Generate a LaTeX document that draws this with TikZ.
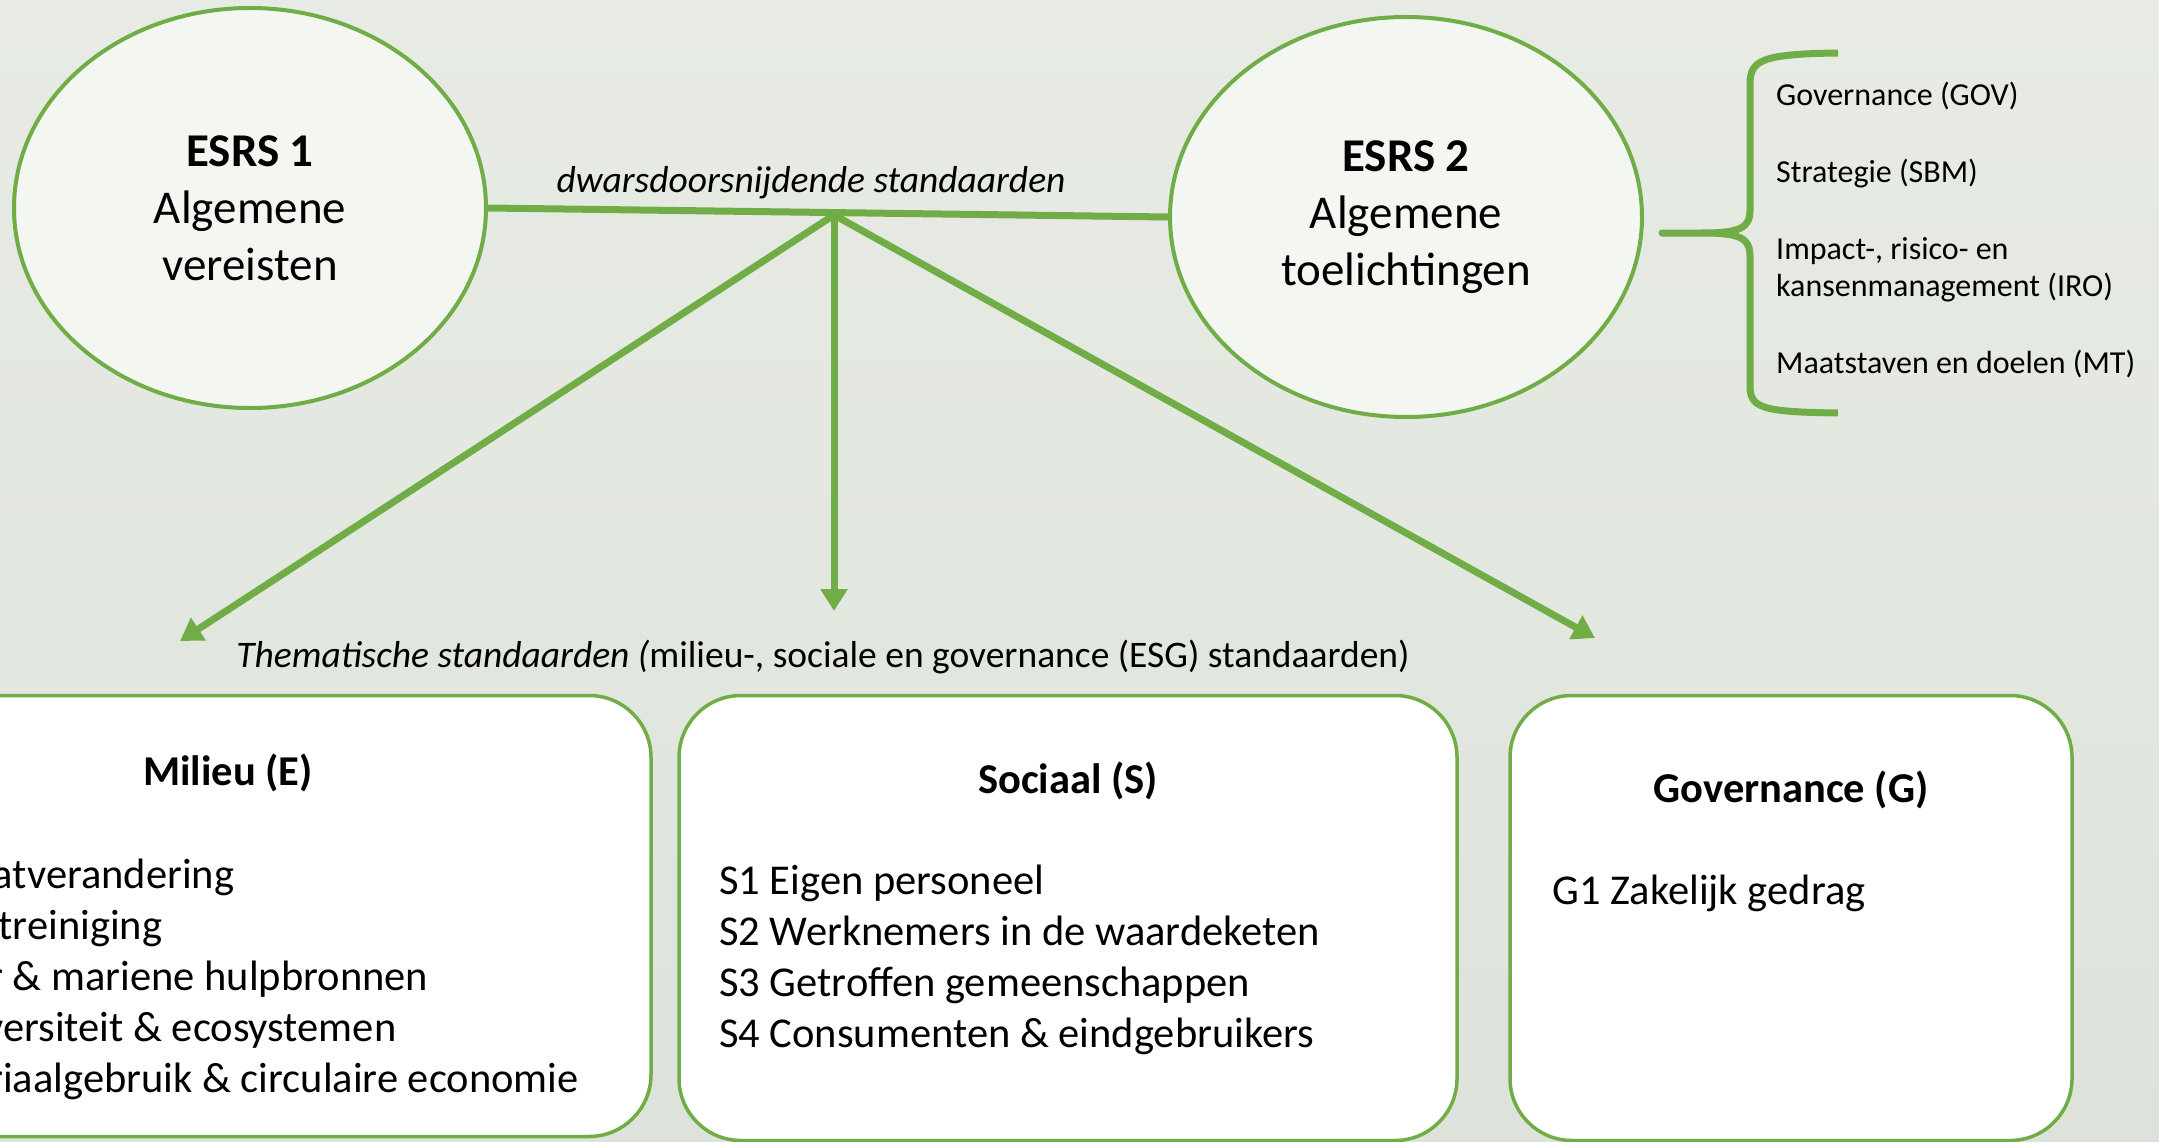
\documentclass[tikz,border=0pt]{standalone}
\usepackage{fontspec}
\setmainfont{Carlito}
\usetikzlibrary{arrows.meta}
\usetikzlibrary{shapes.geometric}

\definecolor{esrsgreen}{HTML}{70AD47}
\definecolor{bgtop}{HTML}{E7EBE4}
\definecolor{bgbottom}{HTML}{DDE3DA}
\definecolor{ovalfill}{HTML}{F4F6F2}

\tikzset{
  esrsoval/.style={ellipse, draw=esrsgreen, line width=4pt, fill=ovalfill, minimum width=472pt, minimum height=400pt, align=center, font=\fontsize{47}{57}\selectfont},
  themebox/.style={rectangle, draw=esrsgreen, line width=3.5pt, fill=white, rounded corners=62pt},
  link/.style={esrsgreen, line width=7pt},
  feed/.style={esrsgreen, line width=7pt, -{Triangle[width=26pt,length=22pt]}},
  note/.style={font=\fontsize{37.5}{45}\selectfont, inner sep=0pt},
  heading/.style={font=\fontsize{42.5}{51}\selectfont\bfseries, inner sep=0pt},
  items/.style={anchor=west, align=left, font=\fontsize{42.5}{51}\selectfont, inner sep=0pt},
  sublist/.style={anchor=west, align=left, font=\fontsize{32}{37}\selectfont, inner sep=0pt}
}

\begin{document}
\begin{tikzpicture}[x=1pt, y=-1pt]
  \useasboundingbox (0,0) rectangle (2159,1142);
  \clip (0,0) rectangle (2159,1142);
  \shade[top color=bgtop, bottom color=bgbottom] (0,0) rectangle (2159,1142);

  \node[esrsoval] (esrs1) at (250,208) {\textbf{ESRS 1}\\Algemene\\vereisten};
  \node[esrsoval] (esrs2) at (1406,217) {\textbf{ESRS 2}\\Algemene\\toelichtingen};

  \draw[link] (esrs1.east) -- (esrs2.west);
  \node[note] (cross) at (811,183) {\itshape dwarsdoorsnijdende standaarden};

  \coordinate (split) at (834,215);
  \coordinate (tipE) at (180,641);
  \coordinate (tipS) at (834,611);
  \coordinate (tipG) at (1595,638);
  \draw[feed] (split) -- (tipE);
  \draw[feed] (split) -- (tipS);
  \draw[feed] (split) -- (tipG);

  \node[note] (thema) at (823,657) {{\itshape Thematische standaarden (}milieu-, sociale en governance (ESG) standaarden)};

  \draw[link, line join=round] (1838,53) .. controls (1762,54) and (1750,60) .. (1750,84) -- (1750,210)
    .. controls (1750,228) and (1740,233) .. (1702,233) -- (1662,233) -- (1702,233)
    .. controls (1740,233) and (1750,238) .. (1750,256) -- (1750,386)
    .. controls (1750,408) and (1762,412) .. (1838,413);
  \node[sublist] (esrs2list) at (1776,230) {Governance (GOV)\\[40pt]Strategie (SBM)\\[40pt]Impact-, risico- en\\kansenmanagement (IRO)\\[40pt]Maatstaven en doelen (MT)};

  \node[themebox, minimum width=846pt, minimum height=441pt] (milieu) at (228,916) {};
  \node[themebox, minimum width=778pt, minimum height=445pt] (sociaal) at (1068,918) {};
  \node[themebox, minimum width=562pt, minimum height=445pt] (gov) at (1791,918) {};

  \node[heading] (milieuhead) at (228,773) {Milieu (E)};
  \node[heading] (sociaalhead) at (1068,781) {Sociaal (S)};
  \node[heading] (govhead) at (1791,790) {Governance (G)};

  \node[items] (milieulist) at (-155,979) {E1 Klimaatverandering\\E2 Verontreiniging\\E3 Water \& mariene hulpbronnen\\E4 Biodiversiteit \& ecosystemen\\E5 Materiaalgebruik \& circulaire economie};
  \node[items] (sociaallist) at (719,960) {S1 Eigen personeel\\S2 Werknemers in de waardeketen\\S3 Getroffen gemeenschappen\\S4 Consumenten \& eindgebruikers};
  \node[items] (govlist) at (1552,893) {G1 Zakelijk gedrag};
\end{tikzpicture}
\end{document}
